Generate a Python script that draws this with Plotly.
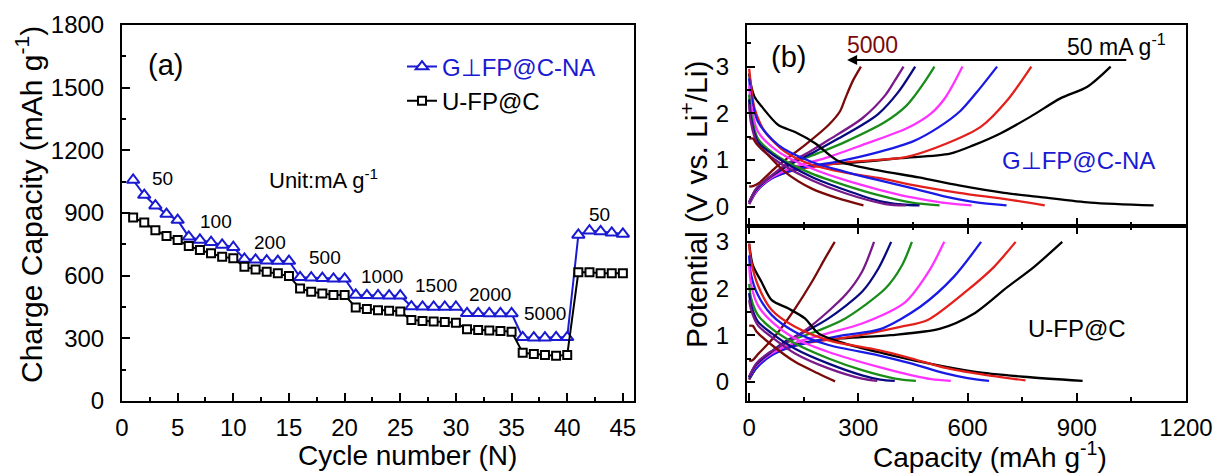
import plotly.graph_objects as go

W, H = 1216, 473

# ---------------- Panel (a): rate capability ----------------
cycles = list(range(1, 46))
g_cap = [1058, 986, 935, 895, 866, 786, 771, 760, 747, 736,
         680, 676, 672, 670, 670, 592, 590, 588, 585, 585,
         508, 506, 505, 504, 504, 452, 451, 450, 450, 450,
         420, 420, 419, 419, 419, 305, 303, 303, 305, 305,
         795, 815, 812, 805, 800]
u_cap = [878, 854, 818, 790, 771, 742, 723, 707, 691, 683,
         643, 630, 619, 611, 598, 539, 523, 515, 507, 507,
         448, 440, 435, 432, 428, 388, 383, 380, 378, 375,
         343, 340, 337, 335, 332, 231, 225, 220, 217, 220,
         616, 616, 611, 611, 611]
rate_labels = ["50", "100", "200", "500", "1000", "1500", "2000", "5000", "50"]

# ---------------- Panel (b): charge/discharge profiles (capacity, potential) ----------------
rates = ["50", "100", "200", "500", "1000", "1500", "2000", "5000"]
colors = ["#000000", "#e4201c", "#1a1ae6", "#ff33ff", "#1a8c1a", "#0a0a80", "#7a1a8a", "#7a0a0a"]

# G⊥FP@C-NA, charge
G_CHG_50 = [(0, 0.06), (20, 0.35), (60, 0.65), (120, 0.82), (200, 0.9), (277, 0.94), (415, 1.04), (552, 1.14),
            (617, 1.32), (690, 1.57), (773, 1.93), (855, 2.32), (929, 2.57), (993, 3.0)]
G_CHG_100 = [(0, 0.06), (20, 0.33), (60, 0.6), (120, 0.78), (200, 0.88), (277, 0.96), (433, 1.07), (544, 1.36),
             (636, 1.71), (709, 2.28), (775, 3.0)]
G_CHG_200 = [(0, 0.07), (20, 0.33), (60, 0.6), (110, 0.76), (160, 0.86), (250, 0.98), (355, 1.17), (450, 1.4),
             (520, 1.7), (580, 2.05), (625, 2.45), (681, 3.0)]
G_CHG_500 = [(0, 0.08), (20, 0.35), (60, 0.62), (100, 0.78), (135, 0.88), (220, 1.07), (310, 1.32), (433, 1.68),
             (500, 2.0), (540, 2.35), (586, 3.0)]
G_CHG_1000 = [(0, 0.1), (20, 0.38), (60, 0.65), (117, 0.93), (190, 1.15), (264, 1.39), (374, 1.82), (430, 2.15),
              (456, 2.39), (480, 2.65), (509, 3.0)]
G_CHG_1500 = [(0, 0.1), (20, 0.38), (60, 0.65), (108, 0.89), (180, 1.18), (245, 1.46), (310, 1.75), (355, 1.99),
              (410, 2.46), (456, 3.0)]
G_CHG_2000 = [(0, 0.1), (20, 0.4), (60, 0.66), (98, 0.89), (160, 1.15), (218, 1.43), (310, 1.89), (374, 2.39),
              (400, 2.7), (424, 3.0)]
G_CHG_5000 = [(0, 0.43), (12, 0.45), (25, 0.5), (80, 0.89), (153, 1.32), (218, 1.75), (250, 2.05), (264, 2.32),
              (285, 2.7), (307, 3.0)]
# G⊥FP@C-NA, discharge
G_DIS_50 = [(0, 2.85), (5, 2.6), (15, 2.35), (34, 2.15), (80, 1.75), (126, 1.6), (181, 1.36), (245, 0.98),
            (355, 0.78), (466, 0.63), (576, 0.46), (700, 0.3), (801, 0.21), (938, 0.09), (1111, 0.03)]
G_DIS_100 = [(0, 2.95), (5, 2.6), (15, 2.1), (43, 1.61), (98, 1.18), (172, 0.9), (264, 0.73), (355, 0.62),
             (447, 0.47), (576, 0.3), (709, 0.16), (812, 0.03)]
G_DIS_200 = [(0, 2.75), (5, 2.4), (24, 1.82), (80, 1.32), (172, 0.96), (264, 0.75), (355, 0.57), (447, 0.4),
             (539, 0.22), (620, 0.1), (707, 0.03)]
G_DIS_500 = [(0, 2.6), (5, 2.2), (24, 1.61), (80, 1.18), (172, 0.82), (264, 0.57), (355, 0.37), (447, 0.2),
             (530, 0.09), (611, 0.03)]
G_DIS_1000 = [(0, 2.4), (5, 2.0), (24, 1.46), (80, 1.07), (172, 0.71), (264, 0.46), (355, 0.25), (447, 0.09),
              (523, 0.03)]
G_DIS_1500 = [(0, 2.3), (5, 1.9), (24, 1.39), (80, 1.04), (172, 0.64), (264, 0.36), (355, 0.13), (420, 0.05),
              (468, 0.03)]
G_DIS_2000 = [(0, 2.2), (5, 1.8), (24, 1.32), (80, 0.96), (172, 0.57), (264, 0.29), (374, 0.06), (431, 0.03)]
G_DIS_5000 = [(0, 1.46), (10, 1.46), (20, 1.35), (43, 1.18), (98, 0.75), (172, 0.39), (245, 0.18), (314, 0.03)]

# U-FP@C, charge
U_CHG_50 = [(0, 0.05), (20, 0.3), (60, 0.58), (120, 0.78), (180, 0.88), (250, 0.93), (388, 1.0), (525, 1.14),
            (617, 1.46), (709, 2.03), (782, 2.46), (860, 3.0)]
U_CHG_100 = [(0, 0.05), (20, 0.3), (60, 0.58), (120, 0.76), (172, 0.85), (280, 0.97), (415, 1.18), (489, 1.32),
             (599, 1.96), (672, 2.46), (732, 3.0)]
U_CHG_200 = [(0, 0.07), (20, 0.3), (60, 0.56), (110, 0.74), (172, 0.86), (260, 1.0), (360, 1.13), (470, 1.61),
             (562, 2.25), (637, 3.0)]
U_CHG_500 = [(0, 0.1), (20, 0.35), (60, 0.6), (100, 0.76), (135, 0.86), (220, 1.05), (310, 1.25), (429, 1.71),
             (493, 2.36), (536, 3.0)]
U_CHG_1000 = [(0, 0.1), (20, 0.37), (60, 0.64), (117, 0.89), (190, 1.1), (264, 1.36), (374, 2.0), (420, 2.5),
              (447, 3.0)]
U_CHG_1500 = [(0, 0.1), (20, 0.38), (60, 0.64), (98, 0.86), (160, 1.1), (218, 1.36), (310, 1.93), (355, 2.43),
              (390, 3.0)]
U_CHG_2000 = [(0, 0.12), (20, 0.4), (50, 0.6), (80, 0.74), (130, 0.98), (172, 1.21), (264, 1.86), (310, 2.36),
              (343, 3.0)]
U_CHG_5000 = [(0, 0.45), (10, 0.47), (25, 0.6), (50, 0.8), (80, 1.07), (126, 1.57), (172, 2.14), (208, 2.64),
              (235, 3.0)]
# U-FP@C, discharge
U_DIS_50 = [(0, 2.96), (10, 2.5), (34, 2.14), (62, 1.75), (108, 1.57), (153, 1.36), (190, 1.04), (264, 0.82),
            (369, 0.61), (489, 0.4), (617, 0.22), (753, 0.11), (916, 0.02)]
U_DIS_100 = [(0, 2.96), (5, 2.6), (24, 2.07), (62, 1.54), (126, 1.18), (218, 0.89), (355, 0.68), (447, 0.5),
             (539, 0.3), (640, 0.16), (759, 0.03)]
U_DIS_200 = [(0, 2.71), (5, 2.3), (24, 1.86), (62, 1.43), (126, 1.07), (218, 0.79), (355, 0.57), (447, 0.39),
             (539, 0.18), (600, 0.08), (659, 0.02)]
U_DIS_500 = [(0, 2.5), (5, 2.1), (24, 1.64), (62, 1.29), (126, 0.93), (218, 0.64), (355, 0.32), (447, 0.14),
             (500, 0.06), (554, 0.02)]
U_DIS_1000 = [(0, 2.1), (5, 1.8), (24, 1.43), (62, 1.14), (126, 0.82), (218, 0.5), (310, 0.25), (401, 0.07),
              (458, 0.02)]
U_DIS_1500 = [(0, 1.9), (5, 1.65), (24, 1.29), (62, 1.04), (126, 0.71), (218, 0.39), (310, 0.14), (360, 0.05),
              (400, 0.02)]
U_DIS_2000 = [(0, 1.75), (5, 1.55), (24, 1.21), (62, 0.96), (126, 0.61), (218, 0.29), (310, 0.07), (352, 0.02)]
U_DIS_5000 = [(0, 1.2), (10, 1.2), (20, 1.08), (62, 0.79), (126, 0.43), (190, 0.18), (236, 0.01)]

G_CURVES = [G_CHG_50, G_CHG_100, G_CHG_200, G_CHG_500, G_CHG_1000, G_CHG_1500, G_CHG_2000, G_CHG_5000,
            G_DIS_50, G_DIS_100, G_DIS_200, G_DIS_500, G_DIS_1000, G_DIS_1500, G_DIS_2000, G_DIS_5000]
U_CURVES = [U_CHG_50, U_CHG_100, U_CHG_200, U_CHG_500, U_CHG_1000, U_CHG_1500, U_CHG_2000, U_CHG_5000,
            U_DIS_50, U_DIS_100, U_DIS_200, U_DIS_500, U_DIS_1000, U_DIS_1500, U_DIS_2000, U_DIS_5000]

BLUE = "#1a1ad2"
FONT = "Liberation Sans, Arial, sans-serif"


def px(x):
    return x / W


def py(y):
    return 1 - y / H


fig = go.Figure()

fig.add_trace(go.Scatter(
    x=cycles, y=g_cap, mode="lines+markers", name='<span style="color:%s">G⊥FP@C-NA</span>' % BLUE,
    line=dict(color=BLUE, width=2),
    marker=dict(symbol="triangle-up", size=11, color="white", line=dict(color=BLUE, width=2)),
    xaxis="x", yaxis="y"))
fig.add_trace(go.Scatter(
    x=cycles, y=u_cap, mode="lines+markers", name="U-FP@C",
    line=dict(color="black", width=2),
    marker=dict(symbol="square", size=8, color="white", line=dict(color="black", width=2)),
    xaxis="x", yaxis="y"))

for i, curve in enumerate(G_CURVES):
    q, v = zip(*curve)
    fig.add_trace(go.Scatter(x=q, y=v, mode="lines", showlegend=False,
                             line=dict(color=colors[i % 8], width=2.3, shape="spline", smoothing=0.8),
                             xaxis="x2", yaxis="y2"))
for i, curve in enumerate(U_CURVES):
    q, v = zip(*curve)
    fig.add_trace(go.Scatter(x=q, y=v, mode="lines", showlegend=False,
                             line=dict(color=colors[i % 8], width=2.3, shape="spline", smoothing=0.8),
                             xaxis="x3", yaxis="y3"))

axis_common = dict(showline=True, linewidth=2, linecolor="black", showgrid=False, zeroline=False,
                   ticks="inside", ticklen=8, tickwidth=2, tickcolor="black", automargin=False,
                   tickfont=dict(size=24, color="black", family=FONT))
minor_common = dict(ticks="inside", ticklen=4, tickwidth=2, tickcolor="black", showgrid=False)

fig.update_layout(
    width=W, height=H, margin=dict(l=0, r=0, t=0, b=0, autoexpand=False),
    paper_bgcolor="white", plot_bgcolor="white",
    font=dict(family=FONT, color="black"),
    showlegend=True,
    legend=dict(x=px(402), y=py(84), xanchor="left", yanchor="middle", font=dict(size=24, family=FONT),
                bgcolor="rgba(0,0,0,0)", itemwidth=30, tracegroupgap=0, borderwidth=0),
    xaxis=dict(domain=[px(122), px(634)], range=[0, 46], tick0=0, dtick=5, anchor="y", mirror=True,
               minor=dict(dtick=2.5, **minor_common), ticklabelstandoff=4, **axis_common),
    yaxis=dict(domain=[py(401), py(25)], range=[0, 1800], tick0=0, dtick=300, anchor="x", mirror=True,
               minor=dict(dtick=150, **minor_common), ticklabelstandoff=11, **axis_common),
    xaxis2=dict(domain=[px(747), px(1186)], range=[-6, 1200], tick0=0, dtick=300, anchor="y2", mirror=True,
                showticklabels=False, minor=dict(dtick=150, **minor_common), **axis_common),
    yaxis2=dict(domain=[py(226), py(25)], range=[-0.41, 3.89], tick0=0, dtick=1, anchor="x2", mirror=True,
                minor=dict(dtick=0.5, **minor_common), ticklabelstandoff=11, **axis_common),
    xaxis3=dict(domain=[px(747), px(1186)], range=[-6, 1200], tick0=0, dtick=300, anchor="y3", mirror="ticks",
                minor=dict(dtick=150, **minor_common), ticklabelstandoff=4, **axis_common),
    yaxis3=dict(domain=[py(401), py(226)], range=[-0.41, 3.34], tick0=0, dtick=1, anchor="x3", mirror=True,
                minor=dict(dtick=0.5, **minor_common), ticklabelstandoff=11, **axis_common),
)

ann = []
# axis titles
ann.append(dict(text="Cycle number (N)", x=px(407), y=py(455), xref="paper", yref="paper",
                xanchor="center", yanchor="middle", showarrow=False, font=dict(size=28)))
ann.append(dict(text="Capacity (mAh g<sup>-1</sup>)", x=px(990), y=py(455), xref="paper", yref="paper",
                xanchor="center", yanchor="middle", showarrow=False, font=dict(size=28)))
ann.append(dict(text="Charge Capacity (mAh g<sup>-1</sup>)", x=px(29), y=py(205), xref="paper", yref="paper",
                xanchor="center", yanchor="middle", showarrow=False, textangle=-90, font=dict(size=30)))
ann.append(dict(text="Potential (V vs. Li<sup>+</sup>/Li)", x=px(694), y=py(205), xref="paper", yref="paper",
                xanchor="center", yanchor="middle", showarrow=False, textangle=-90, font=dict(size=30)))
# panel (a) texts
ann.append(dict(text="(a)", x=3.9, y=1608, xref="x", yref="y", xanchor="center", yanchor="middle",
                showarrow=False, font=dict(size=29)))
ann.append(dict(text="Unit:mA g<sup>-1</sup>", x=13.0, y=1065, xref="x", yref="y", xanchor="left",
                yanchor="middle", showarrow=False, font=dict(size=22)))
label_pos = [(3.6, 1067), (8.4, 857), (13.3, 761), (18.2, 685), (23.4, 598), (28.2, 555), (33.1, 512),
             (38.0, 421), (42.9, 895)]
for t, (lx, ly) in zip(rate_labels, label_pos):
    ann.append(dict(text=t, x=lx, y=ly, xref="x", yref="y", xanchor="center", yanchor="middle",
                    showarrow=False, font=dict(size=19)))
# panel (b) texts
ann.append(dict(text="(b)", x=107, y=3.2, xref="x2", yref="y2", xanchor="center", yanchor="middle",
                showarrow=False, font=dict(size=29)))
ann.append(dict(text=rates[-1], x=340, y=3.46, xref="x2", yref="y2", xanchor="center", yanchor="middle",
                showarrow=False, font=dict(size=23, color=colors[-1])))
ann.append(dict(text=rates[0] + " mA g<sup>-1</sup>", x=1008, y=3.46, xref="x2", yref="y2", xanchor="center",
                yanchor="middle", showarrow=False, font=dict(size=23)))
ann.append(dict(text="", x=269, y=3.14, ax=1040, ay=3.14, xref="x2", yref="y2", axref="x2", ayref="y2",
                showarrow=True, arrowhead=2, arrowsize=1, arrowwidth=2, arrowcolor="black"))
ann.append(dict(text="G⊥FP@C-NA", x=905, y=1.0, xref="x2", yref="y2", xanchor="center", yanchor="middle",
                showarrow=False, font=dict(size=24, color=BLUE)))
ann.append(dict(text="U-FP@C", x=900, y=1.15, xref="x3", yref="y3", xanchor="center", yanchor="middle",
                showarrow=False, font=dict(size=24)))

fig.update_layout(annotations=ann)

# remove the browser's default page margin so the 1216x473 figure fills the window exactly
fig.write_html("out.html", config={"displayModeBar": False},
               post_script="document.body.style.margin='0px';document.body.style.overflow='hidden';")
